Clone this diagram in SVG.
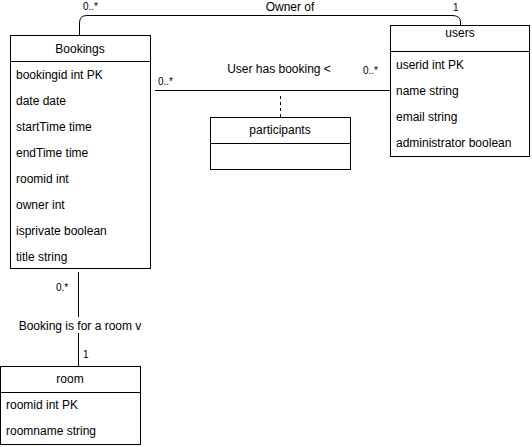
<svg xmlns="http://www.w3.org/2000/svg" width="532" height="447" viewBox="0 0 532 447">
  <style>
    text { font-family: "Liberation Sans", Arial, sans-serif; fill: #000; }
    .t { font-size: 12px; }
    .c { text-anchor: middle; }
    .s { font-size: 10px; }
    .box { fill: #fff; stroke: #000; stroke-width: 1; }
    .ln { fill: none; stroke: #000; stroke-width: 1; }
    .dash { fill: none; stroke: #000; stroke-width: 1; stroke-dasharray: 3 3; }
  </style>
  <rect width="532" height="447" fill="#fff"/>

  <!-- connectors -->
  <g id="connectors">
    <path class="ln" d="M79.5 35 V23 Q79.5 15.5 87 15.5 H452 Q460.5 15.5 460.5 22 V25"/>
    <path class="ln" d="M155 90.5 H390"/>
    <path class="dash" d="M280.5 96 V117"/>
    <path class="ln" d="M78.5 272 V366"/>
    <rect x="16" y="317" width="128" height="16" fill="#fff"/>
    <text class="t c" x="80" y="330">Booking is for a room v</text>
    <text class="t c" x="290" y="11">Owner of</text>
    <text class="s" x="83" y="10">0..*</text>
    <text class="s" x="453" y="11">1</text>
    <text class="t c" x="279" y="73">User has booking &lt;</text>
    <text class="s" x="158" y="85">0..*</text>
    <text class="s" x="363" y="74">0..*</text>
    <text class="s" x="56" y="291">0.*</text>
    <text class="s" x="83" y="358">1</text>
  </g>

  <g id="bookings">
    <rect class="box" x="10.5" y="35.5" width="140" height="233"/>
    <path class="ln" d="M10.5 61.5 H150.5"/>
    <text class="t c" x="80" y="53">Bookings</text>
    <text class="t" x="16" y="79">bookingid int PK</text>
    <text class="t" x="16" y="105">date date</text>
    <text class="t" x="16" y="131">startTime time</text>
    <text class="t" x="16" y="157">endTime time</text>
    <text class="t" x="16" y="183">roomid int</text>
    <text class="t" x="16" y="209">owner int</text>
    <text class="t" x="16" y="235">isprivate boolean</text>
    <text class="t" x="16" y="261">title string</text>
  </g>

  <g id="users">
    <rect class="box" x="390.5" y="25.5" width="139" height="131"/>
    <path class="ln" d="M390.5 51.5 H529.5"/>
    <text class="t c" x="460" y="37">users</text>
    <text class="t" x="396" y="69">userid int PK</text>
    <text class="t" x="396" y="95">name string</text>
    <text class="t" x="396" y="121">email string</text>
    <text class="t" x="396" y="147">administrator boolean</text>
  </g>

  <g id="participants">
    <rect class="box" x="210.5" y="117.5" width="140" height="52"/>
    <path class="ln" d="M210.5 143.5 H350.5"/>
    <text class="t c" x="280" y="134">participants</text>
  </g>

  <g id="room">
    <rect class="box" x="0.5" y="366.5" width="140" height="78"/>
    <path class="ln" d="M0.5 392.5 H140.5"/>
    <text class="t c" x="70" y="383">room</text>
    <text class="t" x="6" y="409">roomid int PK</text>
    <text class="t" x="6" y="435">roomname string</text>
  </g>
</svg>
